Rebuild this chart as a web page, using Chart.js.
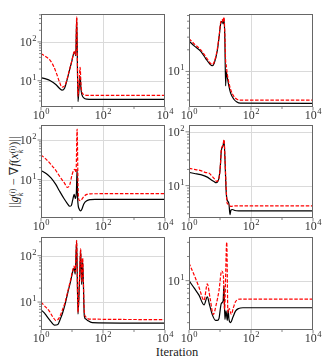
<!DOCTYPE html>
<html>
<head>
<meta charset="utf-8">
<script src="https://cdn.jsdelivr.net/npm/chart.js@4.4.0/dist/chart.umd.min.js"></script>
<style>
  body { margin: 0; background: #fff; }
  #fig { position: relative; width: 325px; height: 363px; overflow: hidden; background: #fff;
         font-family: "Liberation Serif", "DejaVu Serif", serif; color: #222; }
  canvas { position: absolute; }
  #xlabel { position: absolute; left: 127px; width: 100px; top: 345px; text-align: center;
            font-size: 12.5px; line-height: 14px; }
  #ylabel { position: absolute; left: -86px; top: 163px; width: 200px; height: 18px; line-height: 18px;
            text-align: center; white-space: nowrap; font-size: 12.5px; transform: rotate(-90deg); }
  .ss { display: inline-block; vertical-align: -5px; font-size: 8px; line-height: 8px; text-align: left; }
  .ss span { display: block; }
</style>
</head>
<body>
<div id="fig">
  <div id="ylabel">||<i>g</i><span class="ss"><span>(<i>i</i>)</span><span><i>k</i></span></span> − ∇<i>f</i>(<i>x</i><span class="ss"><span>(<i>i</i>)</span><span><i>k</i></span></span>)||</div>
  <div id="xlabel">Iteration</div>
</div>
<script>
// DATA : iteration (x) and gradient error (y), black solid and red dashed curve per panel
const p1kX = [1, 1.5, 2, 3, 4, 4.8, 5.8, 6.7, 8.2, 9.8, 11.3, 12.3, 13.2, 14.2, 15.6, 16.8, 18.3, 19.5, 21, 24, 30, 45, 10000];
const p1kY = [12, 11, 10, 8, 6.3, 5.7, 6.5, 9.5, 18, 31, 50, 55, 44, 420, 2.9, 6, 13, 6, 4.3, 3.6, 3.35, 3.3, 3.3];
const p1rX = [1, 1.4, 2, 2.6, 3.2, 4, 4.8, 5.8, 6.7, 8.2, 9.8, 11.3, 12.3, 13.2, 14.2, 15.6, 16.8, 18.3, 19.5, 21, 24, 30, 10000];
const p1rY = [50, 42, 33, 23, 15, 9, 6.8, 7.4, 10, 18.5, 32, 52, 58, 46, 440, 4, 8, 22, 8, 5, 4.4, 4.2, 4.2];

const p2kX = [1, 1.5, 2.4, 3.5, 4.7, 5.6, 6.5, 8.2, 9.5, 10.5, 11.9, 12.5, 13.4, 14.3, 15.2, 15.8, 17, 19, 22, 28, 35, 45, 10000];
const p2kY = [26.5, 22.5, 19, 15, 12.7, 12, 13, 19.6, 32, 46, 50, 46, 54, 30, 6.3, 10, 8.5, 6.5, 5, 4.1, 3.75, 3.62, 3.6];
const p2rX = [1, 1.5, 2.4, 3.5, 4.7, 5.6, 6.5, 8.2, 9.5, 10.5, 11.9, 12.5, 13.4, 14.3, 15.2, 16, 17, 19, 22, 28, 35, 45, 10000];
const p2rY = [28.6, 24, 20, 16, 13.3, 12.5, 13.5, 20.5, 33, 48, 53, 48, 57, 35, 14, 12, 9.5, 7.2, 5.6, 4.5, 4.1, 4, 4];

const p3kX = [1, 1.5, 2.1, 3, 3.9, 5.5, 7, 8.5, 9.5, 10.5, 11.8, 12.8, 13.8, 14.6, 15.3, 17, 19, 21, 24, 30, 40, 55, 10000];
const p3kY = [17, 14, 11, 7.5, 5.2, 3.3, 2.5, 2.1, 2.2, 3.0, 4.2, 3.3, 4.5, 18, 3, 1.8, 1.6, 1.8, 2.4, 2.9, 3.1, 3.15, 3.15];
const p3rX = [1, 1.5, 2.1, 3, 4, 5.6, 7.2, 8.5, 10, 11.5, 12.5, 13.5, 14.6, 15.8, 17, 19, 21, 24, 30, 40, 10000];
const p3rY = [42, 32, 24, 17, 12, 8.3, 6.3, 7.5, 13, 17.5, 18, 15, 190, 5, 3.0, 2.9, 3.2, 3.7, 4.2, 4.35, 4.4];

const p4kX = [1, 1.5, 2.4, 3.9, 5, 6.4, 7.5, 8.5, 9.3, 10.2, 11, 12.5, 13.5, 14.5, 15.5, 16.5, 18.5, 19.5, 21, 22.5, 25, 30, 40, 10000];
const p4kY = [17.6, 16.8, 16, 14.4, 13, 11.9, 11.3, 12, 14, 22, 44, 55, 68, 30, 10, 5.8, 5, 4.5, 2.9, 3.5, 3.6, 3.45, 3.4, 3.4];
const p4rX = [1, 1.5, 2.4, 3.5, 4.5, 5.5, 6.9, 7.7, 8.7, 9.5, 10.3, 11, 12.5, 13.5, 14.5, 15.5, 17, 19, 22, 30, 10000];
const p4rY = [21, 20, 19, 17.5, 17, 15, 13, 12, 12.5, 15, 24, 46, 57, 72, 32, 12, 4.7, 4.5, 4.1, 4.2, 4.2];

const p5kX = [1, 1.3, 1.6, 2.1, 2.7, 3.5, 4.2, 5, 6, 7.3, 9, 10.5, 11.7, 12.7, 14.1, 15.6, 17.5, 19, 20.5, 22, 25, 28, 32, 45, 10000];
const p5kY = [6.8, 5.8, 4.8, 3.8, 3.2, 3.3, 4.3, 5.9, 9, 15.8, 28, 45, 55, 40, 206, 5.5, 30, 132, 24, 81, 5, 4.3, 4.0, 3.6, 3.5];
const p5rX = [1, 1.3, 1.85, 2.4, 3.05, 3.8, 5, 6, 7.3, 9, 10.5, 11.7, 12.7, 14.1, 15.6, 17.5, 19, 20.5, 22, 25, 28, 35, 10000];
const p5rY = [10, 8.3, 6.4, 4.8, 4.0, 4.5, 7, 10, 17, 30, 48, 60, 45, 215, 6, 35, 140, 28, 88, 6, 4.8, 4.3, 4.2];

const p6kX = [1, 1.5, 2.1, 3.05, 3.9, 4.6, 5.6, 7.2, 8.2, 9.3, 11, 12.6, 13.4, 14.4, 15.6, 17.2, 18.3, 19.5, 22, 26, 32, 40, 55, 10000];
const p6kY = [10, 8, 6.6, 5.0, 6.3, 5.0, 3.8, 3.2, 3.2, 3.4, 5.2, 5.6, 8.7, 3.3, 4.2, 3.2, 4.3, 3.3, 3.0, 3.5, 4.2, 4.5, 4.6, 4.6];
const p6rX = [1, 1.5, 2.1, 3.05, 3.9, 4.8, 6.1, 7.5, 9.3, 11.3, 12.8, 14, 16.5, 18, 20, 23, 27, 32, 45, 10000];
const p6rY = [16.6, 11.5, 8.3, 5.7, 9.1, 6, 3.8, 5, 7.6, 13.2, 11.8, 4.4, 30, 4, 4.5, 3.8, 4.6, 5.5, 5.9, 5.9];

// y limits of each panel
const yLims = [[2.1, 525], [3.2, 63], [1.06, 240], [2.5, 134], [2.5, 253], [2.43, 35]];

// x axis ticks
const xMajor = [1, 100, 10000];
const xMinor = [10, 1000];
const xGrid = [100];

// LAYOUT (plot area of each panel, in page pixels)
const cols = [41, 189];
const rows = [14, 125, 237];
const plotW = 124, plotH = 93;
const pad = { left: 30, top: 10, right: 12, bottom: 18 };

const curves = [
  [p1kX, p1kY, p1rX, p1rY],
  [p2kX, p2kY, p2rX, p2rY],
  [p3kX, p3kY, p3rX, p3rY],
  [p4kX, p4kY, p4rX, p4rY],
  [p5kX, p5kY, p5rX, p5rY],
  [p6kX, p6kY, p6rX, p6rY],
];

const FONT = '"Liberation Serif", "DejaVu Serif", serif';

function pts(xs, ys) {
  return xs.map((x, i) => ({ x: x, y: ys[i] }));
}

function decades(min, max) {
  const major = [], minor = [];
  for (let e = Math.floor(Math.log10(min)); e <= Math.ceil(Math.log10(max)); e++) {
    for (let k = 1; k <= 9; k++) {
      const v = k * Math.pow(10, e);
      if (v < min || v > max) continue;
      (k === 1 ? major : minor).push({ v: v, e: e });
    }
  }
  return { major, minor };
}

function powLabel(ctx, e, x, y, align) {
  ctx.font = '12px ' + FONT;
  const w1 = ctx.measureText('10').width;
  ctx.font = '8.5px ' + FONT;
  const w2 = ctx.measureText(String(e)).width;
  const tot = w1 + w2 + 0.5;
  let x0 = align === 'right' ? x - tot : x - tot / 2;
  ctx.textAlign = 'left';
  ctx.textBaseline = 'alphabetic';
  ctx.font = '12px ' + FONT;
  ctx.fillText('10', x0, y);
  ctx.font = '8.5px ' + FONT;
  ctx.fillText(String(e), x0 + w1 + 0.5, y - 5);
}

const decor = {
  id: 'decor',
  beforeDatasetsDraw(chart) {
    const { ctx, chartArea: a, scales: { x, y } } = chart;
    const d = decades(y.min, y.max);
    ctx.save();
    ctx.strokeStyle = '#dadada';
    ctx.lineWidth = 1;
    ctx.beginPath();
    d.major.forEach(t => {
      const py = Math.round(y.getPixelForValue(t.v)) + 0.5;
      ctx.moveTo(a.left, py); ctx.lineTo(a.right, py);
    });
    xGrid.forEach(v => {
      const px = Math.round(x.getPixelForValue(v)) + 0.5;
      ctx.moveTo(px, a.top); ctx.lineTo(px, a.bottom);
    });
    ctx.stroke();
    ctx.restore();
  },
  afterDraw(chart) {
    const { ctx, chartArea: a, scales: { x, y } } = chart;
    const d = decades(y.min, y.max);
    ctx.save();
    ctx.strokeStyle = '#666';
    ctx.lineWidth = 1;
    ctx.strokeRect(Math.round(a.left) + 0.5, Math.round(a.top) + 0.5,
                   Math.round(a.right - a.left) - 1, Math.round(a.bottom - a.top) - 1);
    ctx.lineWidth = 0.8;
    ctx.beginPath();
    d.major.forEach(t => {
      const py = y.getPixelForValue(t.v);
      ctx.moveTo(a.left, py); ctx.lineTo(a.left - 3.5, py);
    });
    d.minor.forEach(t => {
      const py = y.getPixelForValue(t.v);
      ctx.moveTo(a.left, py); ctx.lineTo(a.left - 2, py);
    });
    xMajor.forEach(v => {
      const px = x.getPixelForValue(v);
      ctx.moveTo(px, a.bottom); ctx.lineTo(px, a.bottom + 3.5);
    });
    xMinor.forEach(v => {
      const px = x.getPixelForValue(v);
      ctx.moveTo(px, a.bottom); ctx.lineTo(px, a.bottom + 2);
    });
    ctx.stroke();
    ctx.fillStyle = '#333';
    d.major.forEach(t => {
      powLabel(ctx, t.e, a.left - 4.5, y.getPixelForValue(t.v) + 4, 'right');
    });
    xMajor.forEach(v => {
      powLabel(ctx, Math.round(Math.log10(v)), x.getPixelForValue(v), a.bottom + 12, 'center');
    });
    ctx.restore();
  }
};

const fig = document.getElementById('fig');

curves.forEach((c, i) => {
  const left = cols[i % 2], top = rows[Math.floor(i / 2)];
  const cv = document.createElement('canvas');
  cv.width = plotW + pad.left + pad.right;
  cv.height = plotH + pad.top + pad.bottom;
  cv.style.left = (left - pad.left) + 'px';
  cv.style.top = (top - pad.top) + 'px';
  fig.appendChild(cv);

  new Chart(cv.getContext('2d'), {
    type: 'line',
    data: {
      datasets: [
        {
          data: pts(c[2], c[3]),
          borderColor: '#ff0000',
          borderWidth: 1.2,
          borderDash: [3.5, 1.6],
          pointRadius: 0,
          cubicInterpolationMode: 'monotone',
        },
        {
          data: pts(c[0], c[1]),
          borderColor: '#000000',
          borderWidth: 1.2,
          pointRadius: 0,
          cubicInterpolationMode: 'monotone',
        },
      ],
    },
    options: {
      responsive: false,
      animation: false,
      devicePixelRatio: 1,
      layout: { padding: pad },
      plugins: { legend: { display: false }, tooltip: { enabled: false } },
      scales: {
        x: { type: 'logarithmic', min: 1, max: 10000, display: false },
        y: { type: 'logarithmic', min: yLims[i][0], max: yLims[i][1], display: false },
      },
    },
    plugins: [decor],
  });
});
</script>
</body>
</html>
